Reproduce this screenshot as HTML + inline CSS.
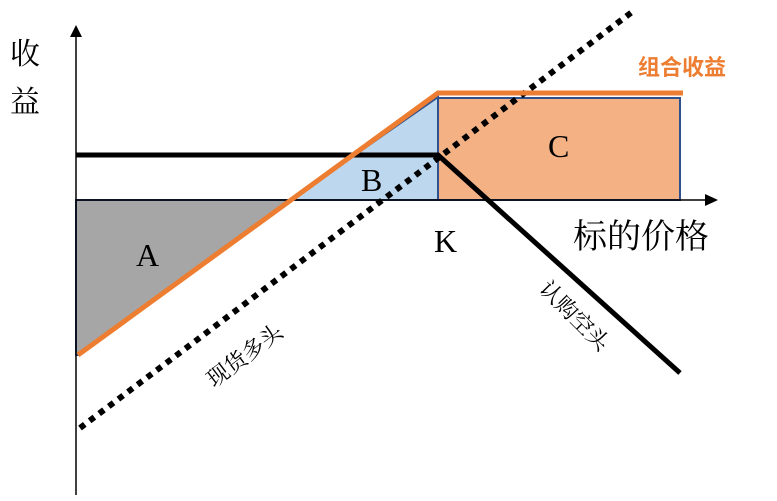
<!DOCTYPE html>
<html><head><meta charset="utf-8"><style>body{margin:0;background:#fff}svg{display:block}</style></head><body>
<svg width="777" height="501" xmlns="http://www.w3.org/2000/svg" font-family="'Liberation Serif','Noto Serif CJK SC',serif">
<polygon points="76,200 290,200 78,355 76,355" fill="#a6a6a6" stroke="#2f528f" stroke-width="2"/>
<polygon points="290,200 438,97 438,200" fill="#bdd7ee" stroke="#2f528f" stroke-width="2"/>
<rect x="438" y="98" width="242" height="102" fill="#f4b183" stroke="#2f528f" stroke-width="2"/>
<line x1="76" y1="495" x2="76" y2="35" stroke="#000" stroke-width="1.5"/>
<polygon points="70,37 82,37 76,25" fill="#000"/>
<line x1="76" y1="200" x2="708" y2="200" stroke="#000" stroke-width="1.5"/>
<polygon points="705,194 705,206 718,200" fill="#000"/>
<line x1="80" y1="428" x2="632" y2="12" stroke="#000" stroke-width="6" stroke-dasharray="6 6"/>
<polyline points="76,155 438,155 680,373" fill="none" stroke="#000" stroke-width="5"/>
<polyline points="78,355 438,93 683,93" fill="none" stroke="#ed7d31" stroke-width="5"/>
<text x="10" y="64" font-size="30">收</text>
<text x="10" y="112" font-size="30">益</text>
<text x="638" y="75" font-size="22" fill="#ed7d31" font-weight="bold" font-family="'Liberation Sans','Noto Sans CJK SC',sans-serif">组合收益</text>
<text x="136" y="266" font-size="32">A</text>
<text x="361" y="191" font-size="32">B</text>
<text x="548" y="157" font-size="32">C</text>
<text x="434" y="252" font-size="32">K</text>
<text x="573" y="248" font-size="34">标的价格</text>
<text transform="translate(214,388) rotate(-37)" font-size="22">现货多头</text>
<text transform="translate(538,290) rotate(45)" font-size="22">认购空头</text>
</svg>
</body></html>
